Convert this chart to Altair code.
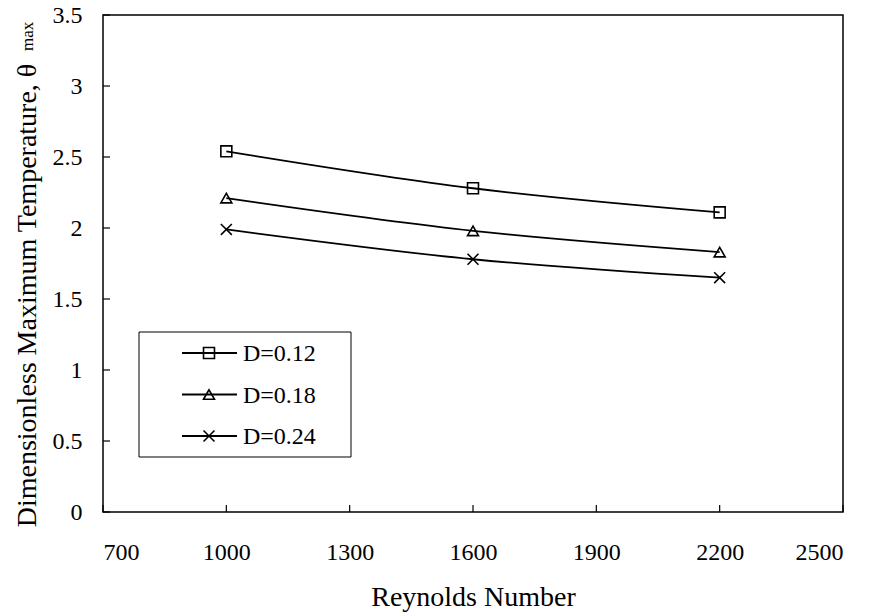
import altair as alt
import pandas as pd

# ---- data ----
reynolds = [1000, 1600, 2200]
series_names = ["D=0.12", "D=0.18", "D=0.24"]
theta_d012 = [2.54, 2.28, 2.11]
theta_d018 = [2.21, 1.98, 1.83]
theta_d024 = [1.99, 1.78, 1.65]
x_ticks = [700, 1000, 1300, 1600, 1900, 2200, 2500]
y_ticks = [0, 0.5, 1, 1.5, 2, 2.5, 3, 3.5]

rows = []
for name, vals in zip(series_names, [theta_d012, theta_d018, theta_d024]):
    for re_, v in zip(reynolds, vals):
        rows.append({"Re": re_, "theta": v, "series": name})
df = pd.DataFrame(rows)

W, H = 740, 497
FONT = "Liberation Serif, Times New Roman, serif"
shape_scale = alt.Scale(
    domain=series_names,
    range=["square", "triangle-up", "M-1,-1L1,1M-1,1L1,-1"],
)

xs = alt.Scale(domain=[700, 2500], nice=False, zero=False)
ys = alt.Scale(domain=[0, 3.5], nice=False, zero=False)

x_axis = alt.Axis(
    values=x_ticks, format="d", grid=False, ticks=False, domain=False,
    labelFont=FONT, labelFontSize=24, labelColor="black",
    labelBaseline="alphabetic", labelPadding=47,
    title="Reynolds Number", titleFont=FONT, titleFontSize=28,
    titleFontWeight="normal", titleColor="black",
    titleBaseline="alphabetic", titleY=93,
)
y_axis = alt.Axis(
    values=y_ticks, format="~g", grid=False, ticks=False, domain=False,
    labelFont=FONT, labelFontSize=24, labelColor="black", labelPadding=21,
    title="Dimensionless Maximum Temperature, θ", titleFont=FONT,
    titleFontSize=28, titleFontWeight="normal", titleColor="black",
    titleAngle=270, titleBaseline="alphabetic", titleAlign="center",
    titleX=-68, titleY=280,
)

base = alt.Chart(df)
lines = base.mark_line(
    color="black", strokeWidth=1.8, interpolate="catmull-rom"
).encode(
    x=alt.X("Re:Q", scale=xs, axis=x_axis),
    y=alt.Y("theta:Q", scale=ys, axis=y_axis),
    detail="series:N",
)
points = base.mark_point(
    filled=False, color="black", strokeWidth=1.6, size=120, opacity=1
).encode(
    x=alt.X("Re:Q", scale=xs),
    y=alt.Y("theta:Q", scale=ys),
    shape=alt.Shape("series:N", scale=shape_scale, legend=None),
)

# inward tick marks
xt = alt.Chart(pd.DataFrame({"v": x_ticks})).mark_rule(
    color="black", strokeWidth=1.2
).encode(x=alt.X("v:Q", scale=xs), y=alt.value(H), y2=alt.value(H - 7))
yt = alt.Chart(pd.DataFrame({"v": y_ticks})).mark_rule(
    color="black", strokeWidth=1.2
).encode(y=alt.Y("v:Q", scale=ys), x=alt.value(0), x2=alt.value(7))

# subscript "max" of the y title
sub = alt.Chart(pd.DataFrame({"t": ["max"]})).mark_text(
    font=FONT, fontSize=17, angle=270, align="left", baseline="alphabetic",
    color="black",
).encode(x=alt.value(-70), y=alt.value(36), text="t:N")

# manual legend
leg_df = pd.DataFrame({"series": series_names, "row": list(range(len(series_names)))})
leg_base = alt.Chart(leg_df).transform_calculate(ly="338 + datum.row * 41.5")
leg_box = alt.Chart(pd.DataFrame({"a": [0]})).mark_rect(
    fill="white", stroke="black", strokeWidth=1
).encode(x=alt.value(36), x2=alt.value(248), y=alt.value(317), y2=alt.value(442))
leg_lines = leg_base.mark_rule(color="black", strokeWidth=1.8).encode(
    x=alt.value(79), x2=alt.value(134), y=alt.Y("ly:Q", scale=None)
)
leg_pts = leg_base.mark_point(
    filled=False, color="black", strokeWidth=1.6, size=120, opacity=1
).encode(
    x=alt.value(106), y=alt.Y("ly:Q", scale=None),
    shape=alt.Shape("series:N", scale=shape_scale, legend=None),
)
leg_text = leg_base.mark_text(
    font=FONT, fontSize=24, align="left", baseline="middle", color="black", dy=1
).encode(x=alt.value(140), y=alt.Y("ly:Q", scale=None), text="series:N")

chart = alt.layer(
    lines, points, xt, yt, sub, leg_box, leg_lines, leg_pts, leg_text
).properties(
    width=W, height=H,
    autosize=alt.AutoSizeParams(type="none"),
    padding={"left": 103, "top": 15, "right": 28, "bottom": 104},
    background="white",
).configure(
    font=FONT
).configure_axis(
    labelFont=FONT, titleFont=FONT
).configure_text(
    font=FONT
).configure_view(stroke="black", strokeWidth=1.5)

chart.save("out.html", embed_options={"renderer": "svg", "actions": False})
